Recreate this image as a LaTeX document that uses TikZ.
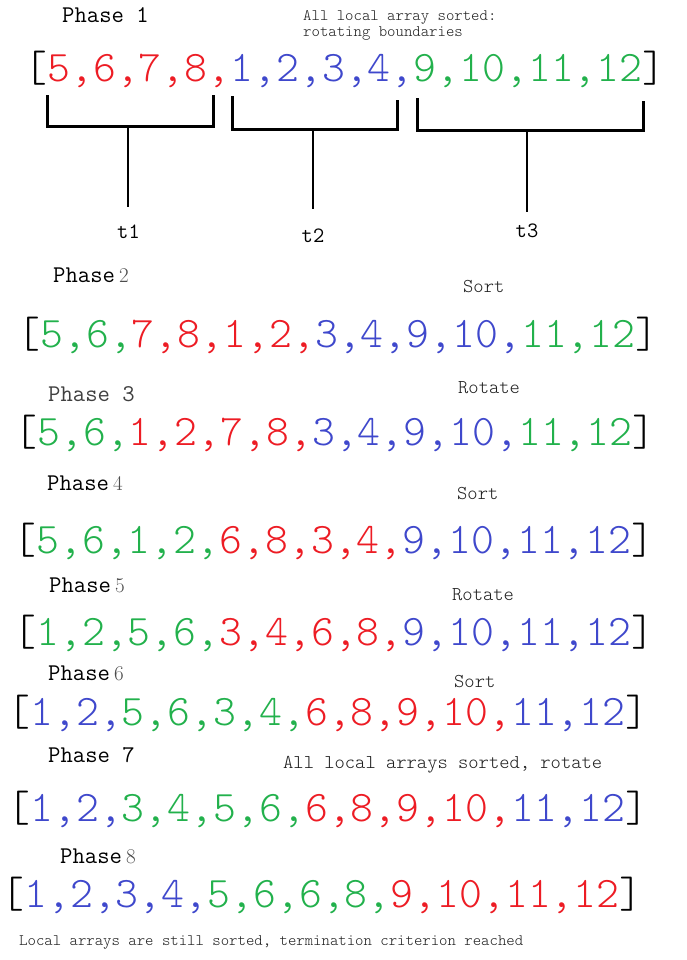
\documentclass[tikz,border=0pt]{standalone}
\usepackage{fontspec}
\newfontfamily\arrfont{Latin Modern Mono Light}
\definecolor{pr}{RGB}{237,28,36}
\definecolor{pb}{RGB}{63,72,204}
\definecolor{pg}{RGB}{34,177,76}
\definecolor{ink}{RGB}{30,30,30}
\newcommand\cR[1]{\textcolor{pr}{#1}}
\newcommand\cB[1]{\textcolor{pb}{#1}}
\newcommand\cG[1]{\textcolor{pg}{#1}}
\newcommand\pnum[1]{\hspace{4pt}{\rmfamily\fontsize{21}{22}\selectfont\textcolor{black!70}{#1}}}
\begin{document}
\begin{tikzpicture}[x=1pt,y=-1pt,
  arr/.style={anchor=base,inner sep=0pt,font=\arrfont\fontsize{43.6}{45}\selectfont},
  phase/.style={anchor=base west,inner sep=0pt,text=black,font=\ttfamily\fontsize{24}{26}\selectfont},
  note/.style={anchor=base west,inner sep=0pt,text=ink,font=\arrfont\fontsize{19.6}{22}\selectfont},
  small/.style={anchor=base west,inner sep=0pt,text=ink,font=\arrfont\fontsize{16}{17}\selectfont},
  tlab/.style={anchor=base,inner sep=0pt,text=black,font=\ttfamily\fontsize{21.9}{24}\selectfont},
  brk/.style={line width=3pt,black,line join=miter,line cap=rect},
  stem/.style={line width=2.7pt,black}]
\useasboundingbox[fill=white] (0,0) rectangle (686,960);

% Phase 1
\node[phase] (p1) at (62,23) {Phase 1};
\node[small] (n1a) at (303,21) {All local array sorted:};
\node[small] (n1b) at (303,37) {rotating boundaries};
\node[arr] (a1) at (345,82) {[\cR{5,6,7,8,}\cB{1,2,3,4,}\cG{9,10,11,12}]};

% brackets
\coordinate (b1a) at (47,97);  \coordinate (b1b) at (47,127);
\coordinate (b1c) at (213,127); \coordinate (b1d) at (213,97);
\coordinate (b2a) at (232,98); \coordinate (b2b) at (232,130);
\coordinate (b2c) at (397,130); \coordinate (b2d) at (397,102);
\coordinate (b3a) at (417,100); \coordinate (b3b) at (417,131);
\coordinate (b3c) at (643,131); \coordinate (b3d) at (643,103);
\draw[brk] (b1a) -- (b1b) -- (b1c) -- (b1d);
\draw[brk] (b2a) -- (b2b) -- (b2c) -- (b2d);
\draw[brk] (b3a) -- (b3b) -- (b3c) -- (b3d);
\coordinate (m1) at (128,127); \coordinate (e1) at (128,207);
\coordinate (m2) at (313,130); \coordinate (e2) at (313,209);
\coordinate (m3) at (527,131); \coordinate (e3) at (527,212);
\draw[stem] (m1) -- (e1);
\draw[stem] (m2) -- (e2);
\draw[stem] (m3) -- (e3);
\node[tlab] (t1) at (128.5,238) {t1};
\node[tlab] (t2) at (313,242) {t2};
\node[tlab] (t3) at (527,237) {t3};

% Phase 2
\node[phase] (p2) at (53,282) {Phase\pnum{2}};
\node[note] (n2) at (463,292) {Sort};
\node[arr] (a2) at (338,347) {[\cG{5,6,}\cR{7,8,1,2,}\cB{3,4,9,10,}\cG{11,12}]};

% Phase 3
\node[phase,text=black!75] (p3) at (48,401) {Phase 3};
\node[note] (n3) at (458,393) {Rotate};
\node[arr] (a3) at (335,445) {[\cG{5,6,}\cR{1,2,7,8,}\cB{3,4,9,10,}\cG{11,12}]};

% Phase 4
\node[phase] (p4) at (47,490) {Phase\pnum{4}};
\node[note] (n4) at (457,499) {Sort};
\node[arr] (a4) at (334,553) {[\cG{5,6,1,2,}\cR{6,8,3,4,}\cB{9,10,11,12}]};

% Phase 5
\node[phase] (p5) at (49,592) {Phase\pnum{5}};
\node[note] (n5) at (452,600) {Rotate};
\node[arr] (a5) at (334,645) {[\cG{1,2,5,6,}\cR{3,4,6,8,}\cB{9,10,11,12}]};

% Phase 6
\node[phase] (p6) at (48,680) {Phase\pnum{6}};
\node[note] (n6) at (454,687) {Sort};
\node[arr] (a6) at (328,725) {[\cB{1,2,}\cG{5,6,3,4,}\cR{6,8,9,10,}\cB{11,12}]};

% Phase 7
\node[phase] (p7) at (48,762) {Phase 7};
\node[note] (n7) at (283,768) {All local arrays sorted, rotate};
\node[arr] (a7) at (328,821) {[\cB{1,2,}\cG{3,4,5,6,}\cR{6,8,9,10,}\cB{11,12}]};

% Phase 8
\node[phase] (p8) at (60,863) {Phase\pnum{8}};
\node[arr] (a8) at (322,907) {[\cB{1,2,3,4,}\cG{5,6,6,8,}\cR{9,10,11,12}]};
\node[small] (n8) at (19,945) {Local arrays are still sorted, termination criterion reached};
\end{tikzpicture}
\end{document}
